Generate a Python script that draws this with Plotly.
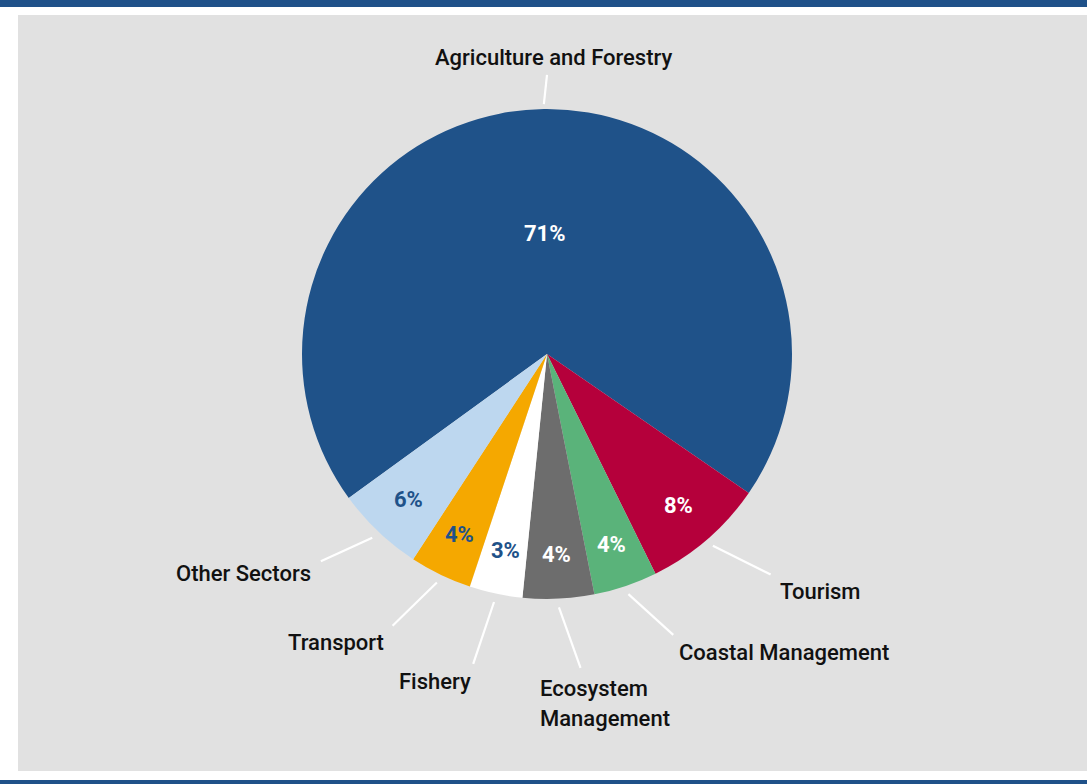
import math
import plotly.graph_objects as go

# ---- data ----
categories = ["Agriculture and Forestry", "Tourism", "Coastal Management",
              "Ecosystem<br>Management", "Fishery", "Transport", "Other Sectors"]
values = [69.6, 8.1, 4.2, 4.7, 3.5, 4.1, 5.8]
pct_labels = ["71%", "8%", "4%", "4%", "3%", "4%", "6%"]

# ---- styles ----
colors = ["#1f5289", "#b5003b", "#5ab37a", "#6d6d6d", "#ffffff", "#f5a800", "#bdd7ef"]
pct_colors = ["white", "white", "white", "white", "#1f5289", "#1f5289", "#1f5289"]
W, H = 1087, 784
CX, CY, R = 547, 354, 245          # pie centre / radius in px
START = 234.0                      # first slice start angle (clockwise from 12 o'clock)
FONT = "Roboto"

# leader line ends (angle deg, radius factor) and label offsets (dx, dy, anchor)
label_layout = {
    "Agriculture and Forestry": dict(end=(0, 1.139), start_rf=1.02, off=(6, -17), anchor="center"),
    "Tourism": dict(end=(134.6, 1.282), off=(7, 17), anchor="left"),
    "Coastal Management": dict(end=(155.8, 1.257), off=(4, 18), anchor="left"),
    "Ecosystem<br>Management": dict(end=(173.9, 1.288), off=(-43, 21), anchor="left"),
    "Fishery": dict(end=(193.4, 1.30), off=(0, 18), anchor="right"),
    "Transport": dict(end=(209.6, 1.276), off=(-7, 17), anchor="right"),
    "Other Sectors": dict(end=(227.5, 1.252), off=(-8, 12), anchor="right"),
}


def px(x, y):
    return x / W, 1 - y / H


def polar(angle_deg, rf):
    a = math.radians(angle_deg)
    return CX + R * rf * math.sin(a), CY - R * rf * math.cos(a)


fig = go.Figure()
d0x, d1x = (CX - R) / W, (CX + R) / W
d0y, d1y = 1 - (CY + R) / H, 1 - (CY - R) / H
fig.add_trace(go.Pie(
    labels=categories, values=values, sort=False, direction="clockwise",
    rotation=START, marker=dict(colors=colors, line=dict(width=0)),
    textinfo="none", hoverinfo="label+percent", showlegend=False,
    domain=dict(x=[d0x, d1x], y=[d0y, d1y]),
))

shapes = [
    dict(type="rect", xref="paper", yref="paper", x0=0, x1=1, y0=px(0, 7)[1], y1=1,
         fillcolor="#1f5189", line=dict(width=0), layer="below"),
    dict(type="rect", xref="paper", yref="paper", x0=18 / W, x1=1, y0=px(0, 771)[1], y1=px(0, 15)[1],
         fillcolor="#e1e1e1", line=dict(width=0), layer="below"),
    dict(type="rect", xref="paper", yref="paper", x0=0, x1=1, y0=0, y1=px(0, 780)[1],
         fillcolor="#1f5189", line=dict(width=0), layer="below"),
]
annotations = []

total = sum(values)
cum = 0.0
for cat, v, pl, pc in zip(categories, values, pct_labels, pct_colors):
    mid = START + (cum + v / 2) / total * 360.0
    cum += v
    # percentage inside
    k = 0.49 if v / total > 0.5 else 0.82
    tx, ty = polar(mid, k)
    ax, ay = px(tx, ty)
    annotations.append(dict(x=ax, y=ay, xref="paper", yref="paper", text=f"<b>{pl}</b>",
                            showarrow=False, font=dict(family=FONT, size=22, color=pc),
                            xanchor="center", yanchor="middle"))
    # leader line
    lay = label_layout[cat]
    sx, sy = polar(mid, lay.get("start_rf", 1.035))
    ex, ey = polar(*lay["end"])
    p0, p1 = px(sx, sy), px(ex, ey)
    shapes.append(dict(type="line", xref="paper", yref="paper", x0=p0[0], y0=p0[1],
                       x1=p1[0], y1=p1[1], line=dict(color="white", width=2.2)))
    # category label
    lx, ly = ex + lay["off"][0], ey + lay["off"][1]
    lines = cat.split("<br>")
    for i, line in enumerate(lines):
        yy = ly + i * 30
        qx, qy = px(lx, yy)
        annotations.append(dict(x=qx, y=qy, xref="paper", yref="paper", text=line,
                                showarrow=False,
                                font=dict(family=FONT, size=22, weight=500, color="#111111"),
                                xanchor=lay["anchor"], yanchor="middle"))

fig.update_layout(
    width=W, height=H, margin=dict(l=0, r=0, t=0, b=0),
    paper_bgcolor="white", plot_bgcolor="white",
    shapes=shapes, annotations=annotations,
)
fig.write_html("out.html")
